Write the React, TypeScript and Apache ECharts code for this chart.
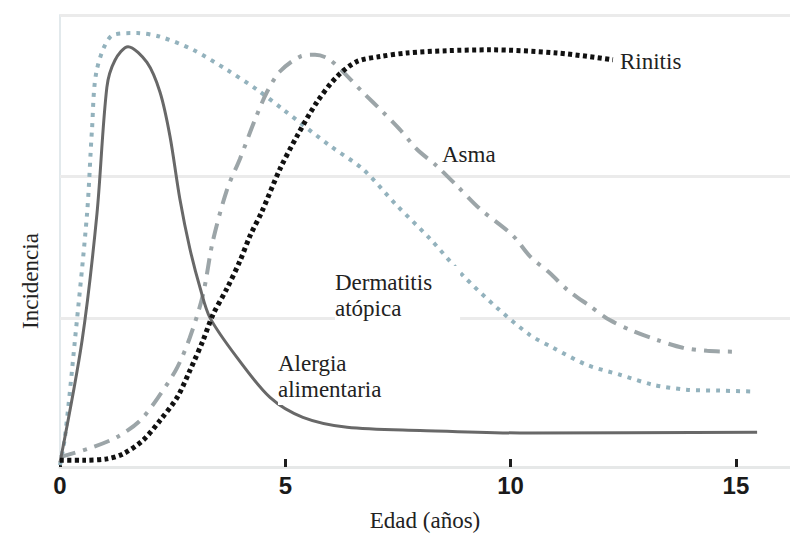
import React, { useEffect, useRef } from "react";
import * as echarts from "echarts";

// x: edad (años), y: incidencia (relative, 0-100)
const xTicks = [0, 5, 10, 15];
const gridLevels = [33, 64.4, 100];

const alergia: [number, number][] = [
  [0, 1], [0.49, 28], [0.82, 56], [1.04, 84], [1.22, 90], [1.51, 93], [1.93, 89.5],
  [2.22, 82.9], [2.44, 73.2], [2.66, 59.3], [2.88, 48.4], [3.11, 39.6], [3.33, 33],
  [3.93, 24.2], [4.66, 15.4], [5.39, 11], [6.37, 8.8], [7.99, 8.1], [10.43, 7.5], [15.47, 7.7],
];

const dermatitis: [number, number][] = [
  [0, 0.4], [0.11, 6.6], [0.33, 27.9], [0.6, 56], [0.71, 74.7], [0.82, 88], [1.18, 95.6],
  [1.71, 96], [2.22, 95.2], [2.95, 92.3], [3.7, 87.9], [4.37, 83.5], [4.95, 79.1], [6, 71],
  [6.72, 65.9], [7.48, 57.8], [8.21, 50.5], [8.94, 42.4], [9.7, 35.2], [10.43, 29.2],
  [10.94, 26.4], [11.69, 22.6], [12.43, 20.4], [13.16, 18.2], [13.9, 17.1], [14.64, 16.9], [15.38, 16.7],
];

const asma: [number, number][] = [
  [0, 2.2], [0.73, 4.4], [1.26, 6.6], [1.78, 10.3], [2.22, 16], [2.6, 22], [2.88, 28.6],
  [3.17, 38], [3.39, 49.9], [3.71, 61.5], [3.99, 68.1], [4.33, 76.9], [4.59, 82.9], [4.88, 87.5],
  [5.33, 90.8], [5.66, 91.2], [5.99, 90.1], [6.72, 82.9], [7.17, 78.5], [7.54, 74.7], [7.92, 70.3],
  [8.36, 66.6], [8.81, 62.2], [9.32, 57.1], [10.05, 51.2], [10.43, 46.6], [10.87, 42.9],
  [11.27, 39.1], [11.76, 35.6], [12.2, 32.5], [12.71, 30.1], [13.25, 28.1], [13.82, 26.4],
  [14.36, 25.7], [15.02, 25.5],
];

const rinitis: [number, number][] = [
  [0, 1.5], [0.51, 1.5], [1.04, 1.8], [1.4, 2.9], [1.84, 5.9], [2.22, 10.3], [2.6, 15.4],
  [2.88, 21.3], [3.17, 27.9], [3.39, 33.6], [3.71, 39.6], [3.99, 45.5], [4.22, 51.2], [4.48, 56.5],
  [4.88, 65.9], [5.26, 73.2], [5.7, 80.7], [6.15, 86.4], [6.59, 89.7], [7.1, 90.8], [7.7, 91.6],
  [8.59, 92.1], [9.54, 92.3], [11.03, 91.6], [12.27, 90.1],
];

const SERIF = "'Liberation Serif', 'Times New Roman', serif";

export default function App() {
  const ref = useRef<HTMLDivElement>(null);
  useEffect(() => {
    if (!ref.current) return;
    const chart = echarts.init(ref.current, null, { renderer: "svg" });
    const labelText = (text: string, x: number, y: number) => ({
      type: "text",
      x,
      y,
      z: 100,
      style: {
        text,
        fill: "#222",
        font: `23px ${SERIF}`,
        lineHeight: 26,
        textAlign: "left",
        textVerticalAlign: "middle",
        backgroundColor: "#ffffff",
        padding: [3, 28, 3, 0],
      },
    });
    chart.setOption({
      animation: false,
      backgroundColor: "#ffffff",
      grid: { left: 60, right: 0, top: 15, bottom: 67 },
      xAxis: {
        type: "value",
        min: 0,
        max: 16.2,
        interval: 5,
        axisLine: { show: true, lineStyle: { color: "#e6e8e8", width: 3 } },
        axisTick: {
          show: true,
          inside: true,
          length: 8,
          customValues: xTicks,
          lineStyle: { color: "#1e1e1e", width: 3 },
        },
        axisLabel: {
          customValues: xTicks,
          margin: 6,
          color: "#1a1a1a",
          fontFamily: "'Liberation Sans', Arial, sans-serif",
          fontWeight: "bold",
          fontSize: 24,
        },
        splitLine: { show: false },
        name: "Edad (años)",
        nameLocation: "middle",
        nameGap: 42,
        nameTextStyle: { fontFamily: SERIF, fontSize: 23, color: "#222" },
      },
      yAxis: {
        type: "value",
        min: 0,
        max: 100,
        axisLine: { show: true, lineStyle: { color: "#e2e9ec", width: 2 } },
        axisTick: { show: false },
        axisLabel: { show: false },
        splitLine: { show: false },
      },
      graphic: [
        {
          type: "text",
          x: 30,
          y: 281,
          rotation: Math.PI / 2,
          style: {
            text: "Incidencia",
            fill: "#222",
            font: `23px ${SERIF}`,
            textAlign: "center",
            textVerticalAlign: "middle",
          },
        },
        labelText("Rinitis", 620, 61),
        labelText("Asma", 442, 154),
        labelText("Dermatitis\natópica", 335, 295),
        labelText("Alergia\nalimentaria", 278, 376),
      ],
      series: [
        {
          name: "Alergia alimentaria",
          type: "line",
          data: alergia,
          showSymbol: false,
          smooth: 0.3,
          z: 4,
          lineStyle: { color: "#686868", width: 3 },
          markLine: {
            silent: true,
            symbol: "none",
            label: { show: false },
            z: 1,
            lineStyle: { color: "#ebebeb", width: 3, type: "solid" },
            data: gridLevels.map((v) => ({ yAxis: v })),
          },
        },
        {
          name: "Dermatitis atópica",
          type: "line",
          data: dermatitis,
          showSymbol: false,
          smooth: 0.3,
          z: 3,
          lineStyle: { color: "#93b2bd", width: 4, type: [4, 6] },
        },
        {
          name: "Asma",
          type: "line",
          data: asma,
          showSymbol: false,
          smooth: 0.3,
          z: 3,
          lineStyle: { color: "#9ca5a8", width: 4, type: [16, 8, 4, 8] },
        },
        {
          name: "Rinitis",
          type: "line",
          data: rinitis,
          showSymbol: false,
          smooth: 0.3,
          z: 5,
          lineStyle: { color: "#111111", width: 5, type: [4, 3.4] },
        },
      ],
    });
    return () => chart.dispose();
  }, []);
  return <div ref={ref} style={{ width: 790, height: 537, position: "absolute", left: 0, top: 0 }} />;
}
